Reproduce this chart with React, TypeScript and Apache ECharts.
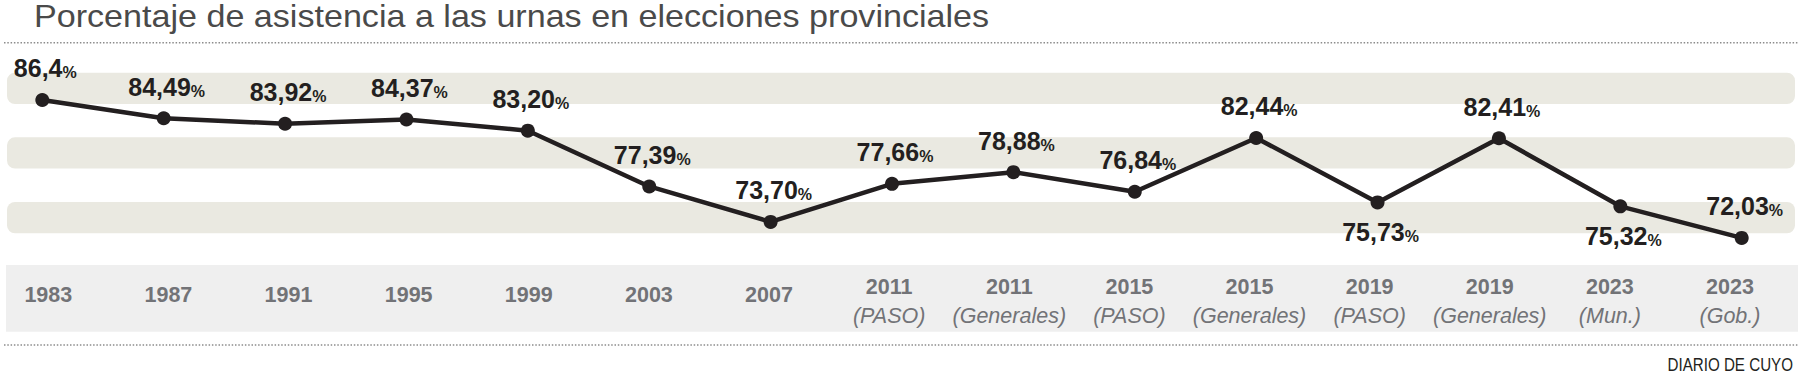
import React, { useEffect, useRef } from 'react';
import * as echarts from 'echarts';

// ---- data ----
const years = ['1983', '1987', '1991', '1995', '1999', '2003', '2007', '2011', '2011', '2015', '2015', '2019', '2019', '2023', '2023'];
const kinds = ['', '', '', '', '', '', '', 'PASO', 'Generales', 'PASO', 'Generales', 'PASO', 'Generales', 'Mun.', 'Gob.'];
const turnoutText = ['86,4', '84,49', '83,92', '84,37', '83,20', '77,39', '73,70', '77,66', '78,88', '76,84', '82,44', '75,73', '82,41', '75,32', '72,03'];
const labelsBelow = [11, 13];
const titleText = 'Porcentaje de asistencia a las urnas en elecciones provinciales';
const sourceText = 'DIARIO DE CUYO';

const turnout = turnoutText.map((s) => parseFloat(s.replace(',', '.')));
const categories = years.map((y, i) => (kinds[i] ? `${y}\n(${kinds[i]})` : y));

const INK = '#231f20';
const BAND = '#eae9e1';
const BOX = '#efefef';
const AXIS_TXT = '#727377';
const FONT = '"Liberation Sans", Arial, Helvetica, sans-serif';

export default function App() {
  const ref = useRef<HTMLDivElement>(null);
  useEffect(() => {
    document.body.style.margin = '0';
    if (!ref.current) return;
    const chart = echarts.init(ref.current, undefined, { renderer: 'svg' });

    const gridTop = 65.4;
    const gridHeight = 192;

    const dotted = (y: number) => ({
      type: 'line',
      z: 0,
      shape: { x1: 4, y1: y, x2: 1798, y2: y },
      style: { stroke: '#8c8c8c', lineWidth: 1.5, lineDash: [1.5, 1.8] },
    });
    const band = (y: number) => ({
      type: 'rect',
      z: 0,
      shape: { x: 7, y, width: 1788, height: 31.3, r: 8 },
      style: { fill: BAND },
    });

    const option: any = {
      animation: false,
      grid: [
        { left: 42.3, top: gridTop, width: 1699.4, height: gridHeight },
        { left: 48.3, top: gridTop, width: 1681.7, height: gridHeight },
      ],
      xAxis: [
        {
          type: 'category',
          gridIndex: 0,
          data: categories,
          boundaryGap: false,
          axisLine: { show: false },
          axisTick: { show: false },
          axisLabel: { show: false },
          splitLine: { show: false },
        },
        {
          type: 'category',
          gridIndex: 1,
          data: categories,
          boundaryGap: false,
          z: 10,
          axisLine: { show: false },
          axisTick: { show: false },
          splitLine: { show: false },
          axisLabel: {
            interval: 0,
            margin: 43.6,
            verticalAlign: 'middle',
            formatter: (val: string) => {
              const parts = val.split('\n');
              if (parts.length > 1) return `{y|${parts[0]}}\n{k|${parts[1]}}`;
              return `{y|${parts[0]}}\n{e| }`;
            },
            rich: {
              y: { fontFamily: FONT, fontWeight: 'bold', fontSize: 21.5, color: AXIS_TXT, lineHeight: 29 },
              k: { fontFamily: FONT, fontStyle: 'italic', fontSize: 21.5, color: AXIS_TXT, lineHeight: 29 },
              e: { fontSize: 10, lineHeight: 12 },
            },
          },
        },
      ],
      yAxis: [
        { type: 'value', gridIndex: 0, min: 70, max: 90, show: false },
        { type: 'value', gridIndex: 1, min: 70, max: 90, show: false },
      ],
      series: [
        {
          type: 'line',
          xAxisIndex: 0,
          yAxisIndex: 0,
          z: 5,
          data: turnout.map((v, i) =>
            labelsBelow.includes(i)
              ? { value: v, label: { position: 'bottom', distance: 10 } }
              : v
          ),
          symbol: 'circle',
          symbolSize: 14,
          lineStyle: { color: INK, width: 4.5 },
          itemStyle: { color: INK },
          label: {
            show: true,
            position: 'top',
            distance: 12,
            offset: [3, 0],
            formatter: (p: any) => `{v|${turnoutText[p.dataIndex]}}{p|%}`,
            rich: {
              v: { fontFamily: FONT, fontWeight: 'bold', fontSize: 25, color: INK, lineHeight: 25, verticalAlign: 'bottom' },
              p: { fontFamily: FONT, fontWeight: 'bold', fontSize: 16, color: INK, lineHeight: 18, verticalAlign: 'bottom' },
            },
          },
        },
      ],
      graphic: [
        band(72.7),
        band(137.3),
        band(202),
        {
          type: 'rect',
          z: 0,
          shape: { x: 6, y: 265, width: 1792, height: 66.7 },
          style: { fill: BOX },
        },
        dotted(42.7),
        dotted(345),
        {
          type: 'text',
          z: 1,
          x: 34,
          y: 16.6,
          scaleX: 1.1,
          style: {
            text: titleText,
            fontFamily: FONT,
            fontSize: 31,
            fill: '#4a4a4a',
            align: 'left',
            verticalAlign: 'middle',
          },
        },
        {
          type: 'text',
          z: 1,
          x: 1793,
          y: 365.3,
          scaleX: 0.82,
          style: {
            text: sourceText,
            fontFamily: FONT,
            fontSize: 18.5,
            fill: INK,
            align: 'right',
            verticalAlign: 'middle',
          },
        },
      ],
    };
    chart.setOption(option);
    return () => chart.dispose();
  }, []);
  return <div ref={ref} style={{ width: 1802, height: 373 }} />;
}
